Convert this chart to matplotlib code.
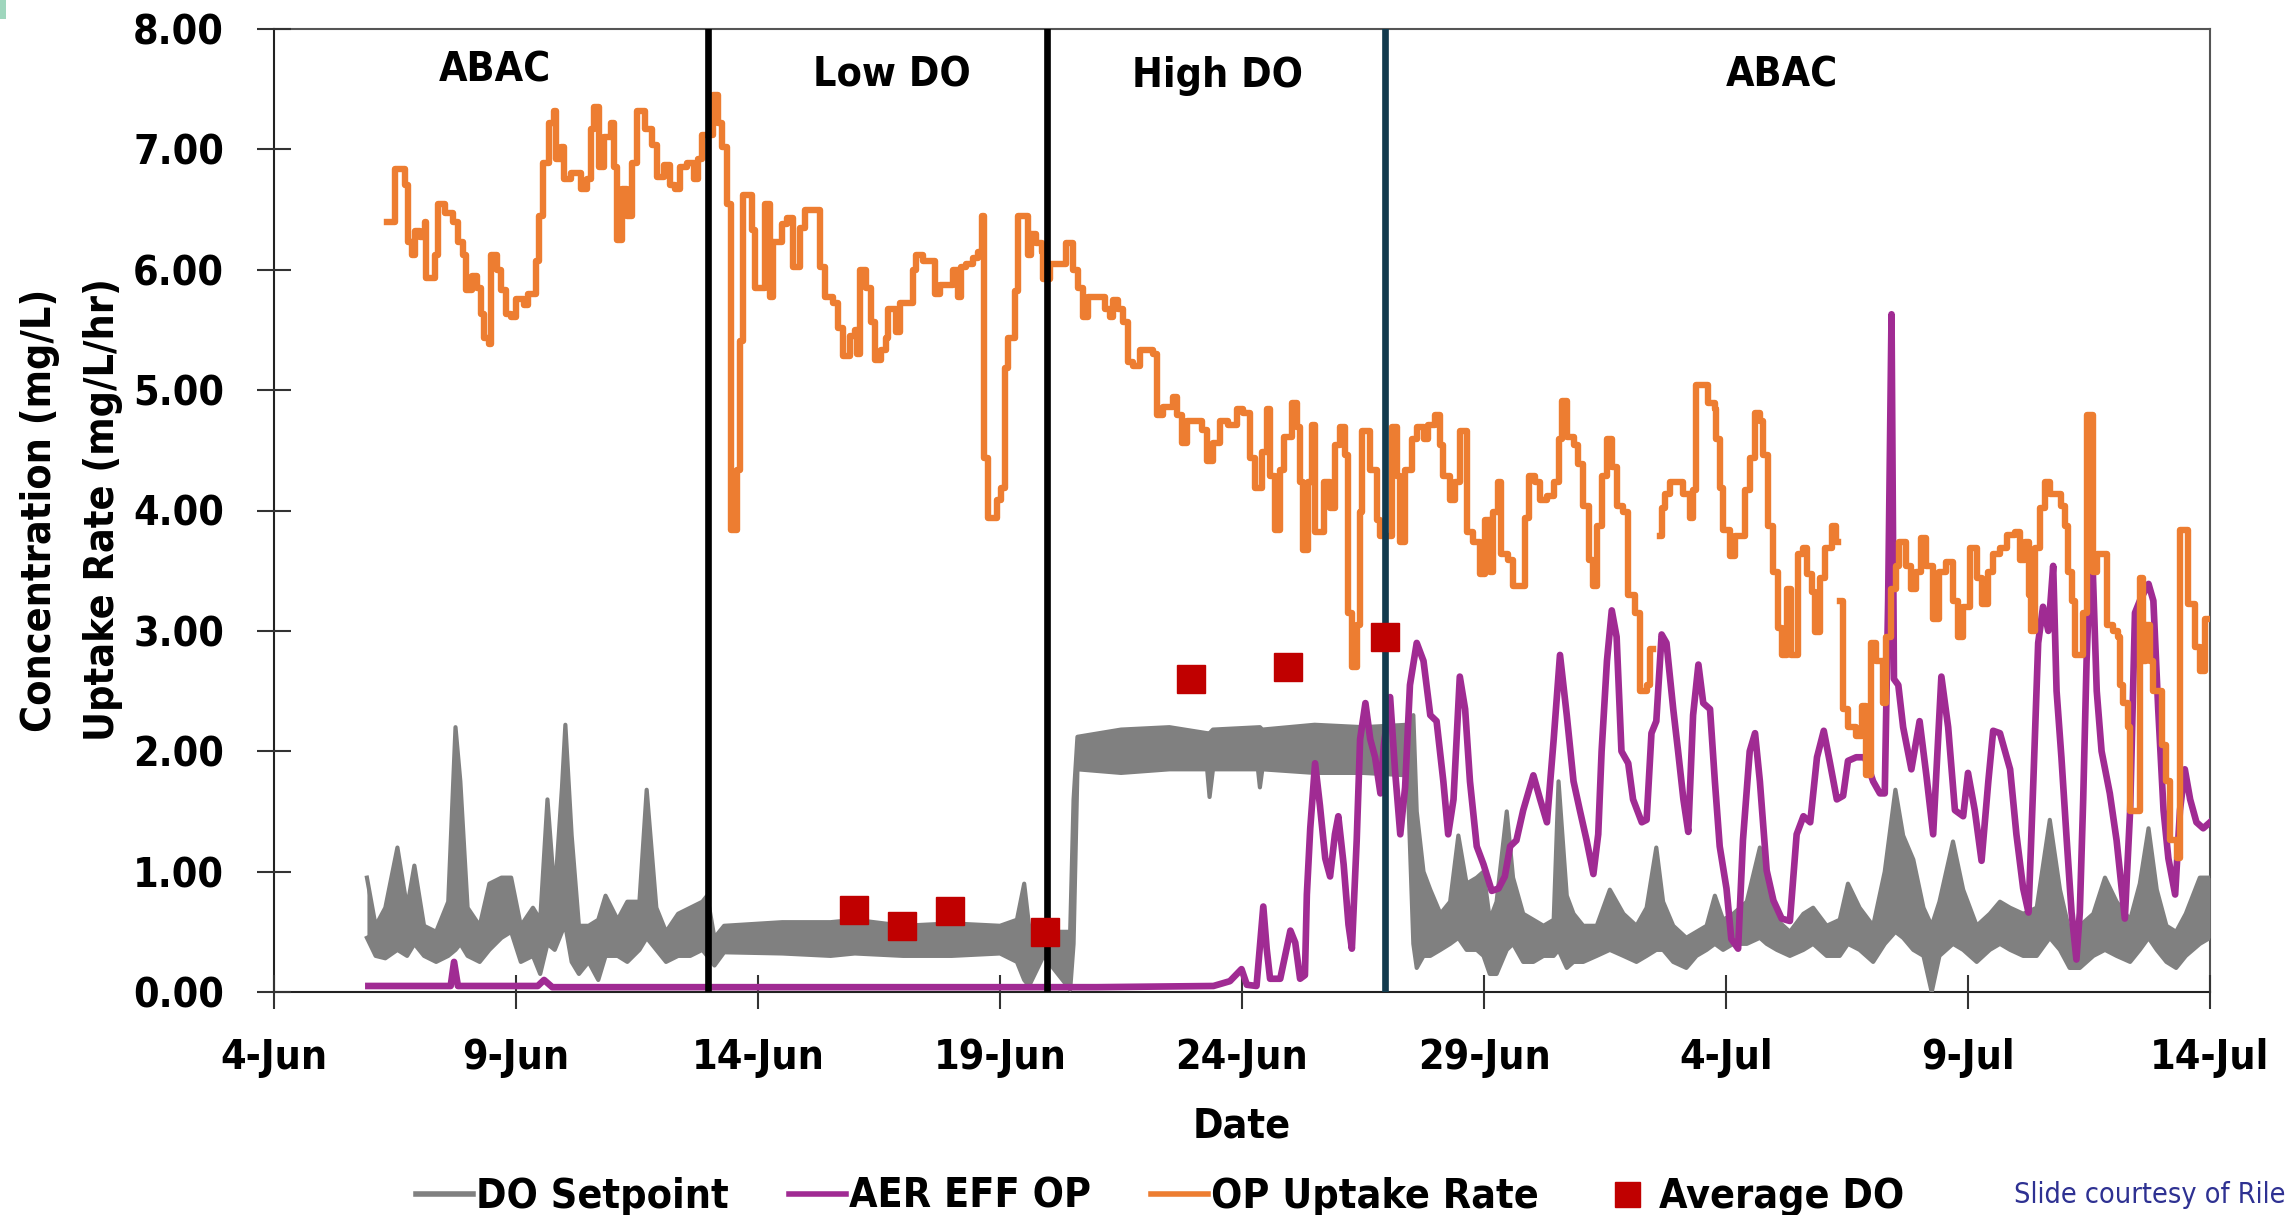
import math
import matplotlib
matplotlib.use("Agg")
import matplotlib.pyplot as plt
from matplotlib import font_manager as fm
from matplotlib.lines import Line2D
from matplotlib.patches import Rectangle

NaN = float("nan")

# ---------------- data (days after 4-Jun) ----------------
x_tick_days = [0, 5, 10, 15, 20, 25, 30, 35, 40]
x_tick_labels = ["4-Jun", "9-Jun", "14-Jun", "19-Jun", "24-Jun", "29-Jun", "4-Jul", "9-Jul", "14-Jul"]
y_ticks = [0, 1, 2, 3, 4, 5, 6, 7, 8]

phase_bounds = [8.97, 15.97, 22.96]
phase_colors = ["#000000", "#000000", "#123a4d"]
phase_names = ["ABAC", "Low DO", "High DO", "ABAC"]
phase_label_x = [4.57, 12.77, 19.50, 31.16]
phase_label_y = [7.56, 7.52, 7.52, 7.52]

avg_do_days = [11.98, 12.98, 13.97, 15.93, 18.95, 20.95, 22.96]
avg_do_vals = [0.68, 0.55, 0.67, 0.50, 2.60, 2.70, 2.95]

op_uptake = [
    (2.33, 6.40), (2.50, 6.84), (2.70, 6.70), (2.76, 6.23), (2.86, 6.12), (2.92, 6.32), (3.02, 6.27),
    (3.12, 6.40), (3.15, 5.93), (3.32, 6.12), (3.39, 6.55), (3.53, 6.47), (3.70, 6.40), (3.80, 6.23),
    (3.90, 6.12), (3.97, 5.83), (4.10, 5.95), (4.20, 5.85), (4.27, 5.63), (4.34, 5.43), (4.44, 5.38),
    (4.48, 6.12), (4.61, 6.00), (4.68, 5.83), (4.79, 5.63), (4.89, 5.61), (5.00, 5.76), (5.17, 5.71),
    (5.24, 5.80), (5.41, 6.07), (5.48, 6.45), (5.55, 6.89), (5.69, 7.22), (5.79, 7.32), (5.82, 6.92),
    (5.93, 7.02), (6.00, 6.75), (6.13, 6.80), (6.34, 6.67), (6.47, 6.75), (6.54, 7.17), (6.61, 7.35),
    (6.71, 6.85), (6.82, 7.10), (6.96, 7.22), (7.02, 6.85), (7.09, 6.25), (7.19, 6.67), (7.30, 6.45),
    (7.40, 6.89), (7.50, 7.32), (7.67, 7.17), (7.81, 7.04), (7.91, 6.77), (8.05, 6.87), (8.18, 6.70),
    (8.29, 6.67), (8.39, 6.85), (8.53, 6.89), (8.67, 6.75), (8.77, 6.92), (8.84, 7.12), (9.07, 7.45),
    (9.18, 7.22), (9.25, 7.02), (9.35, 6.55), (9.45, 3.84), (9.56, 4.34), (9.63, 5.41), (9.70, 6.62),
    (9.87, 6.33), (9.94, 5.85), (10.15, 6.55), (10.25, 5.77), (10.32, 6.23), (10.49, 6.38), (10.60, 6.43),
    (10.73, 6.02), (10.87, 6.35), (10.97, 6.50), (11.28, 6.02), (11.38, 5.77), (11.55, 5.72), (11.66, 5.52),
    (11.76, 5.28), (11.90, 5.45), (12.00, 5.50), (12.04, 5.30), (12.10, 6.00), (12.24, 5.85), (12.34, 5.57),
    (12.41, 5.25), (12.55, 5.33), (12.65, 5.43), (12.69, 5.67), (12.86, 5.48), (12.93, 5.72), (13.20, 6.00),
    (13.27, 6.12), (13.41, 6.07), (13.65, 5.80), (13.76, 5.87), (14.03, 6.00), (14.13, 5.77), (14.20, 6.02),
    (14.30, 6.05), (14.44, 6.10), (14.55, 6.15), (14.62, 6.45), (14.66, 4.44), (14.76, 3.94), (14.93, 4.09),
    (15.03, 4.19), (15.10, 5.18), (15.17, 5.43), (15.31, 5.82), (15.38, 6.45), (15.58, 6.12), (15.65, 6.30),
    (15.75, 6.22), (15.86, 6.15), (15.89, 5.92), (16.03, 6.05), (16.37, 6.22), (16.51, 6.00), (16.61, 5.85),
    (16.71, 5.61), (16.82, 5.77), (17.16, 5.67), (17.27, 5.61), (17.33, 5.75), (17.44, 5.67), (17.54, 5.57),
    (17.65, 5.23), (17.75, 5.20), (17.89, 5.33), (18.17, 5.30), (18.24, 4.79), (18.37, 4.86), (18.58, 4.94),
    (18.65, 4.79), (18.75, 4.56), (18.86, 4.74), (19.17, 4.67), (19.27, 4.41), (19.41, 4.56), (19.55, 4.74),
    (19.72, 4.71), (19.90, 4.84), (20.03, 4.81), (20.17, 4.44), (20.27, 4.19), (20.41, 4.49), (20.51, 4.84),
    (20.58, 4.29), (20.69, 3.84), (20.79, 4.34), (20.86, 4.61), (21.03, 4.89), (21.13, 4.69), (21.20, 4.24),
    (21.27, 3.67), (21.37, 4.24), (21.44, 4.71), (21.51, 3.82), (21.69, 4.24), (21.82, 4.02), (21.92, 4.54),
    (22.03, 4.69), (22.13, 4.46), (22.20, 3.15), (22.27, 2.70), (22.37, 3.05), (22.44, 3.99), (22.48, 4.66),
    (22.65, 4.34), (22.79, 3.92), (22.86, 3.79), (23.09, 4.69), (23.20, 4.29), (23.27, 3.74), (23.37, 4.34),
    (23.51, 4.59), (23.61, 4.69), (23.75, 4.59), (23.85, 4.71), (23.99, 4.79), (24.09, 4.54), (24.16, 4.29),
    (24.30, 4.09), (24.41, 4.24), (24.51, 4.66), (24.64, 3.82), (24.78, 3.74), (24.92, 3.47), (25.02, 3.92),
    (25.12, 3.49), (25.19, 3.99), (25.29, 4.24), (25.36, 3.64), (25.50, 3.59), (25.60, 3.37), (25.85, 3.94),
    (25.92, 4.29), (26.06, 4.24), (26.16, 4.09), (26.30, 4.12), (26.44, 4.24), (26.54, 4.59), (26.61, 4.91),
    (26.71, 4.61), (26.85, 4.54), (26.95, 4.39), (27.05, 4.04), (27.16, 3.59), (27.26, 3.37), (27.33, 3.87),
    (27.43, 4.29), (27.54, 4.59), (27.64, 4.36), (27.74, 4.04), (27.88, 3.99), (27.98, 3.30), (28.12, 3.15),
    (28.22, 2.50), (28.36, 2.55), (28.43, 2.85), (28.50, NaN), (28.64, 3.79), (28.67, 4.02), (28.74, 4.14),
    (28.84, 4.24), (29.12, 4.14), (29.25, 3.94), (29.32, 4.17), (29.39, 5.04), (29.63, 4.89), (29.77, 4.84),
    (29.80, 4.59), (29.87, 4.19), (29.94, 3.84), (30.08, 3.62), (30.18, 3.79), (30.39, 4.17), (30.49, 4.44),
    (30.60, 4.81), (30.70, 4.74), (30.77, 4.46), (30.87, 3.87), (30.98, 3.49), (31.08, 3.02), (31.15, 2.80),
    (31.25, 3.35), (31.35, 2.80), (31.49, 3.64), (31.60, 3.69), (31.67, 3.47), (31.77, 3.32), (31.84, 2.99),
    (31.94, 3.44), (32.04, 3.69), (32.18, 3.87), (32.28, 3.74), (32.31, NaN), (32.35, 3.25), (32.42, 2.35),
    (32.52, 2.20), (32.69, 2.13), (32.80, 2.38), (32.90, 1.80), (33.00, 2.90), (33.10, 2.75), (33.24, 2.40),
    (33.31, 2.95), (33.41, 3.35), (33.51, 3.54), (33.58, 3.74), (33.72, 3.54), (33.82, 3.35), (33.93, 3.49),
    (34.03, 3.77), (34.13, 3.54), (34.27, 3.10), (34.41, 3.49), (34.55, 3.57), (34.69, 3.25), (34.79, 2.95),
    (34.90, 3.20), (35.04, 3.69), (35.18, 3.44), (35.28, 3.22), (35.42, 3.49), (35.52, 3.64), (35.66, 3.69),
    (35.81, 3.80), (35.98, 3.82), (36.08, 3.59), (36.18, 3.74), (36.25, 3.30), (36.31, 3.00), (36.38, 3.69),
    (36.49, 4.02), (36.59, 4.24), (36.69, 4.14), (36.93, 4.04), (37.00, 3.87), (37.07, 3.49), (37.14, 3.25),
    (37.21, 2.80), (37.38, 3.15), (37.45, 4.79), (37.59, 3.49), (37.66, 3.64), (37.87, 3.05), (38.00, 3.00),
    (38.10, 2.95), (38.14, 2.55), (38.21, 2.40), (38.31, 2.20), (38.35, 1.50), (38.55, 3.44), (38.62, 2.75),
    (38.68, 3.05), (38.76, 2.75), (38.83, 2.50), (39.00, 2.05), (39.10, 1.75), (39.17, 1.26), (39.31, 1.11),
    (39.38, 3.84), (39.55, 3.22), (39.69, 2.87), (39.79, 2.67), (39.90, 3.10), (40.00, 3.10),
]

aer_eff_op = [
    (1.95, 0.05), (3.65, 0.05), (3.72, 0.25), (3.80, 0.05), (5.45, 0.05), (5.58, 0.10), (5.75, 0.04),
    (9.00, 0.04), (13.00, 0.04), (17.00, 0.04), (19.41, 0.05), (19.75, 0.09), (19.99, 0.19), (20.10, 0.06),
    (20.30, 0.05), (20.44, 0.71), (20.51, 0.36), (20.58, 0.11), (20.79, 0.11), (21.00, 0.51), (21.10, 0.41),
    (21.20, 0.11), (21.30, 0.14), (21.34, 0.81), (21.41, 1.36), (21.51, 1.90), (21.61, 1.55), (21.72, 1.11),
    (21.82, 0.96), (21.92, 1.31), (21.99, 1.46), (22.10, 1.06), (22.20, 0.56), (22.27, 0.36), (22.37, 1.26),
    (22.44, 2.10), (22.55, 2.40), (22.65, 2.10), (22.75, 1.95), (22.86, 1.65), (22.93, 2.05), (23.06, 2.45),
    (23.16, 1.85), (23.27, 1.31), (23.37, 1.70), (23.47, 2.55), (23.61, 2.90), (23.75, 2.75), (23.89, 2.30),
    (24.02, 2.25), (24.16, 1.75), (24.26, 1.31), (24.37, 1.60), (24.50, 2.62), (24.61, 2.35), (24.71, 1.75),
    (24.85, 1.21), (24.99, 1.06), (25.16, 0.84), (25.30, 0.86), (25.43, 0.96), (25.54, 1.21), (25.67, 1.26),
    (25.81, 1.51), (26.02, 1.80), (26.16, 1.60), (26.30, 1.41), (26.44, 2.10), (26.57, 2.80), (26.71, 2.30),
    (26.85, 1.75), (26.98, 1.51), (27.12, 1.26), (27.26, 0.98), (27.36, 1.31), (27.43, 2.00), (27.54, 2.75),
    (27.64, 3.17), (27.74, 2.95), (27.84, 2.00), (27.98, 1.90), (28.08, 1.60), (28.26, 1.41), (28.36, 1.43),
    (28.46, 2.15), (28.56, 2.25), (28.67, 2.97), (28.77, 2.90), (28.91, 2.35), (29.01, 2.00), (29.12, 1.60),
    (29.22, 1.33), (29.32, 2.30), (29.43, 2.72), (29.53, 2.40), (29.67, 2.35), (29.77, 1.75), (29.87, 1.21),
    (30.01, 0.86), (30.11, 0.44), (30.25, 0.36), (30.35, 1.26), (30.49, 2.00), (30.60, 2.15), (30.70, 1.75),
    (30.84, 1.01), (30.98, 0.76), (31.15, 0.61), (31.32, 0.59), (31.46, 1.31), (31.60, 1.46), (31.74, 1.41),
    (31.88, 1.95), (32.02, 2.17), (32.15, 1.90), (32.29, 1.60), (32.42, 1.63), (32.52, 1.92), (32.69, 1.95),
    (32.87, 1.95), (33.04, 1.75), (33.18, 1.65), (33.28, 1.65), (33.35, 3.25), (33.42, 5.63), (33.47, 2.60),
    (33.56, 2.55), (33.66, 2.20), (33.83, 1.85), (34.00, 2.25), (34.14, 1.80), (34.28, 1.31), (34.45, 2.62),
    (34.59, 2.20), (34.73, 1.51), (34.90, 1.46), (35.00, 1.82), (35.14, 1.51), (35.28, 1.09), (35.42, 1.75),
    (35.52, 2.17), (35.66, 2.15), (35.87, 1.85), (36.00, 1.31), (36.14, 0.86), (36.25, 0.66), (36.35, 1.75),
    (36.45, 2.90), (36.55, 3.20), (36.66, 3.00), (36.76, 3.54), (36.83, 2.50), (36.93, 1.95), (37.04, 1.26),
    (37.14, 0.66), (37.24, 0.27), (37.31, 0.66), (37.38, 1.60), (37.45, 2.75), (37.55, 3.84), (37.66, 2.50),
    (37.76, 2.00), (37.93, 1.65), (38.07, 1.26), (38.24, 0.61), (38.35, 1.51), (38.45, 3.15), (38.55, 3.25),
    (38.73, 3.39), (38.83, 3.25), (38.93, 2.35), (39.04, 1.51), (39.14, 1.11), (39.28, 0.81), (39.38, 1.51),
    (39.48, 1.85), (39.59, 1.60), (39.72, 1.41), (39.86, 1.36), (40.00, 1.41),
]

# DO setpoint: (day, lower envelope, upper envelope) of the noisy trace
do_setpoint = [
    (1.92, 0.45, 0.95), (2.10, 0.30, 0.55), (2.30, 0.28, 0.70), (2.55, 0.35, 1.20), (2.75, 0.30, 0.70),
    (2.90, 0.40, 1.05), (3.10, 0.30, 0.55), (3.35, 0.25, 0.50), (3.60, 0.30, 0.75), (3.75, 0.35, 2.20),
    (3.85, 0.40, 1.75), (4.00, 0.30, 0.70), (4.25, 0.25, 0.55), (4.45, 0.35, 0.90), (4.70, 0.45, 0.95),
    (4.90, 0.50, 0.95), (5.10, 0.25, 0.55), (5.35, 0.30, 0.70), (5.50, 0.15, 0.60), (5.65, 0.40, 1.60),
    (5.80, 0.35, 0.80), (5.95, 0.50, 1.70), (6.02, 0.55, 2.22), (6.15, 0.25, 1.30), (6.30, 0.15, 0.55),
    (6.50, 0.25, 0.55), (6.70, 0.10, 0.60), (6.85, 0.30, 0.80), (7.10, 0.30, 0.60), (7.30, 0.25, 0.75),
    (7.55, 0.35, 0.75), (7.70, 0.45, 1.68), (7.90, 0.35, 0.70), (8.10, 0.25, 0.50), (8.35, 0.30, 0.65),
    (8.60, 0.30, 0.70), (8.85, 0.35, 0.75), (8.95, 0.30, 0.80), (9.10, 0.22, 0.45), (9.30, 0.33, 0.55),
    (10.50, 0.32, 0.58), (11.50, 0.30, 0.58), (12.00, 0.32, 0.60), (13.00, 0.30, 0.55), (14.00, 0.30, 0.57),
    (15.00, 0.32, 0.55), (15.35, 0.25, 0.60), (15.50, 0.10, 0.90), (15.60, 0.05, 0.55), (15.90, 0.30, 0.50),
    (16.45, 0.02, 0.50), (16.52, 0.40, 1.60), (16.60, 1.85, 2.12), (17.50, 1.82, 2.18), (18.50, 1.85, 2.20),
    (19.28, 1.85, 2.15), (19.33, 1.62, 2.15), (19.40, 1.85, 2.18), (20.33, 1.85, 2.20), (20.37, 1.70, 2.20),
    (20.42, 1.85, 2.18), (21.50, 1.82, 2.22), (22.50, 1.82, 2.20), (23.42, 1.80, 2.22), (23.54, 0.40, 2.30),
    (23.61, 0.20, 1.50), (23.75, 0.30, 1.00), (23.89, 0.30, 0.85), (24.10, 0.35, 0.65), (24.30, 0.40, 0.75),
    (24.47, 0.45, 1.30), (24.64, 0.35, 0.90), (24.85, 0.35, 0.95), (24.99, 0.30, 1.00), (25.12, 0.15, 0.60),
    (25.26, 0.15, 0.75), (25.47, 0.35, 1.50), (25.60, 0.40, 0.95), (25.81, 0.25, 0.65), (26.02, 0.25, 0.60),
    (26.23, 0.30, 0.55), (26.44, 0.30, 0.60), (26.54, 0.35, 1.75), (26.71, 0.20, 0.80), (26.85, 0.25, 0.65),
    (27.05, 0.25, 0.55), (27.33, 0.30, 0.55), (27.60, 0.35, 0.85), (27.88, 0.30, 0.65), (28.15, 0.25, 0.55),
    (28.36, 0.30, 0.70), (28.56, 0.35, 1.20), (28.70, 0.35, 0.75), (28.91, 0.25, 0.55), (29.18, 0.20, 0.45),
    (29.39, 0.30, 0.50), (29.60, 0.35, 0.55), (29.77, 0.40, 0.80), (29.94, 0.35, 0.60), (30.15, 0.40, 0.65),
    (30.43, 0.40, 0.75), (30.70, 0.45, 1.20), (30.84, 0.40, 0.85), (31.05, 0.35, 0.60), (31.32, 0.30, 0.50),
    (31.60, 0.35, 0.65), (31.80, 0.40, 0.70), (32.08, 0.30, 0.55), (32.35, 0.30, 0.60), (32.52, 0.40, 0.90),
    (32.76, 0.35, 0.70), (33.04, 0.25, 0.55), (33.28, 0.40, 1.00), (33.50, 0.50, 1.68), (33.66, 0.45, 1.30),
    (33.87, 0.35, 1.10), (34.08, 0.30, 0.70), (34.25, 0.00, 0.55), (34.41, 0.30, 0.75), (34.69, 0.40, 1.25),
    (34.90, 0.35, 0.85), (35.18, 0.25, 0.55), (35.45, 0.35, 0.65), (35.66, 0.40, 0.75), (35.87, 0.35, 0.70),
    (36.14, 0.30, 0.65), (36.42, 0.30, 0.70), (36.69, 0.45, 1.43), (36.90, 0.35, 0.85), (37.10, 0.20, 0.50),
    (37.31, 0.20, 0.55), (37.59, 0.30, 0.65), (37.83, 0.35, 0.95), (38.07, 0.30, 0.75), (38.35, 0.25, 0.60),
    (38.55, 0.35, 0.90), (38.73, 0.45, 1.36), (38.90, 0.35, 0.85), (39.10, 0.25, 0.55), (39.30, 0.20, 0.50),
    (39.50, 0.30, 0.65), (39.79, 0.40, 0.95), (40.00, 0.45, 0.95),
]

# ---------------- styles ----------------
C_GRAY = "#808080"
C_PURPLE = "#a02b93"
C_ORANGE = "#ed7d31"
C_RED = "#c00000"
C_NOTE = "#2e3192"

entries = {(f.name, f.stretch) for f in fm.fontManager.ttflist}
if ("DejaVu Sans", "condensed") in entries:
    FAMILY, STRETCH, FS = "DejaVu Sans", "condensed", 29.5
elif any(n == "Liberation Sans Narrow" for n, s in entries):
    FAMILY, STRETCH, FS = "Liberation Sans Narrow", "condensed", 32
else:
    FAMILY, STRETCH, FS = "DejaVu Sans", "normal", 26

plt.rcParams["font.family"] = [FAMILY, "DejaVu Sans"]
plt.rcParams["font.stretch"] = STRETCH
plt.rcParams["font.weight"] = "bold"

W, H = 2295, 1215
fig = plt.figure(figsize=(W / 100, H / 100), dpi=100)
ax_left, ax_right, ax_top, ax_bottom = 274, 2210, 29, 992
ax = fig.add_axes([ax_left / W, 1 - ax_bottom / H, (ax_right - ax_left) / W, (ax_bottom - ax_top) / H])

# DO setpoint band
do_d = [p[0] for p in do_setpoint]
do_lo = [p[1] for p in do_setpoint]
do_hi = [p[2] for p in do_setpoint]
ax.fill_between(do_d, do_lo, do_hi, color=C_GRAY, lw=0, zorder=2)
ax.plot(do_d, do_lo, color=C_GRAY, lw=3, zorder=2)
ax.plot(do_d, do_hi, color=C_GRAY, lw=3, zorder=2)

# AER EFF OP
aer_d = [p[0] for p in aer_eff_op]
aer_v = [p[1] for p in aer_eff_op]
ax.plot(aer_d, aer_v, color=C_PURPLE, lw=4.8, solid_joinstyle="round", zorder=3)

# OP uptake rate
op_d = [p[0] for p in op_uptake]
op_v = [p[1] for p in op_uptake]
ax.plot(op_d, op_v, color=C_ORANGE, lw=4.6, drawstyle="steps-post", zorder=4)

# phase boundaries
for d, c in zip(phase_bounds, phase_colors):
    ax.axvline(d, color=c, lw=4.8, zorder=5)

# average DO markers
ax.plot(avg_do_days, avg_do_vals, linestyle="none", marker="s", ms=20, color=C_RED, mec=C_RED, zorder=6)

# phase labels
for name, x, y in zip(phase_names, phase_label_x, phase_label_y):
    ax.text(x, y, name, ha="center", va="baseline", fontsize=FS, color="black", zorder=7)

ax.set_xlim(0, 40)
ax.set_ylim(0, 8)
ax.set_xticks(x_tick_days)
ax.set_xticklabels(x_tick_labels)
ax.set_yticks(y_ticks)
ax.set_yticklabels([f"{v:.2f}" for v in y_ticks])
ax.tick_params(axis="both", direction="inout", length=24, width=1.5, color="#333333", labelsize=FS)
ax.tick_params(axis="x", pad=21)
ax.tick_params(axis="y", pad=24)
for side, sp in ax.spines.items():
    sp.set_linewidth(1.5)
    sp.set_color("#222222" if side in ("left", "bottom") else "#555555")
    sp.set_zorder(1)

# axis titles
fig.text(51 / W, 1 - 510 / H, "Concentration (mg/L)", rotation=90, rotation_mode="anchor",
         ha="center", va="baseline", fontsize=FS)
fig.text(114 / W, 1 - 510 / H, "Uptake Rate (mg/L/hr)", rotation=90, rotation_mode="anchor",
         ha="center", va="baseline", fontsize=FS)
fig.text(1242 / W, 1 - 1138 / H, "Date", ha="center", va="baseline", fontsize=FS)

# legend
handles = [
    Line2D([], [], color=C_GRAY, lw=4),
    Line2D([], [], color=C_PURPLE, lw=4),
    Line2D([], [], color=C_ORANGE, lw=4),
    Line2D([], [], linestyle="none", marker="s", ms=18, color=C_RED),
]
labels = ["DO Setpoint", "AER EFF OP", "OP Uptake Rate", "Average DO"]
fig.legend(handles, labels, loc="center", bbox_to_anchor=(1160 / W, 1 - 1197 / H), ncol=4, frameon=False,
           fontsize=FS, handlelength=1.4, handletextpad=0.08, columnspacing=1.45, borderpad=0,
           borderaxespad=0)

fig.text(2014 / W, 1 - 1203 / H, "Slide courtesy of Rile", ha="left", va="baseline",
         fontsize=FS * 0.70, fontweight="normal", color=C_NOTE)

fig.add_artist(Rectangle((0, 1 - 19 / H), 6 / W, 19 / H, transform=fig.transFigure,
                         color="#9fd6bd", lw=0))

fig.savefig("out.png", dpi=100)
